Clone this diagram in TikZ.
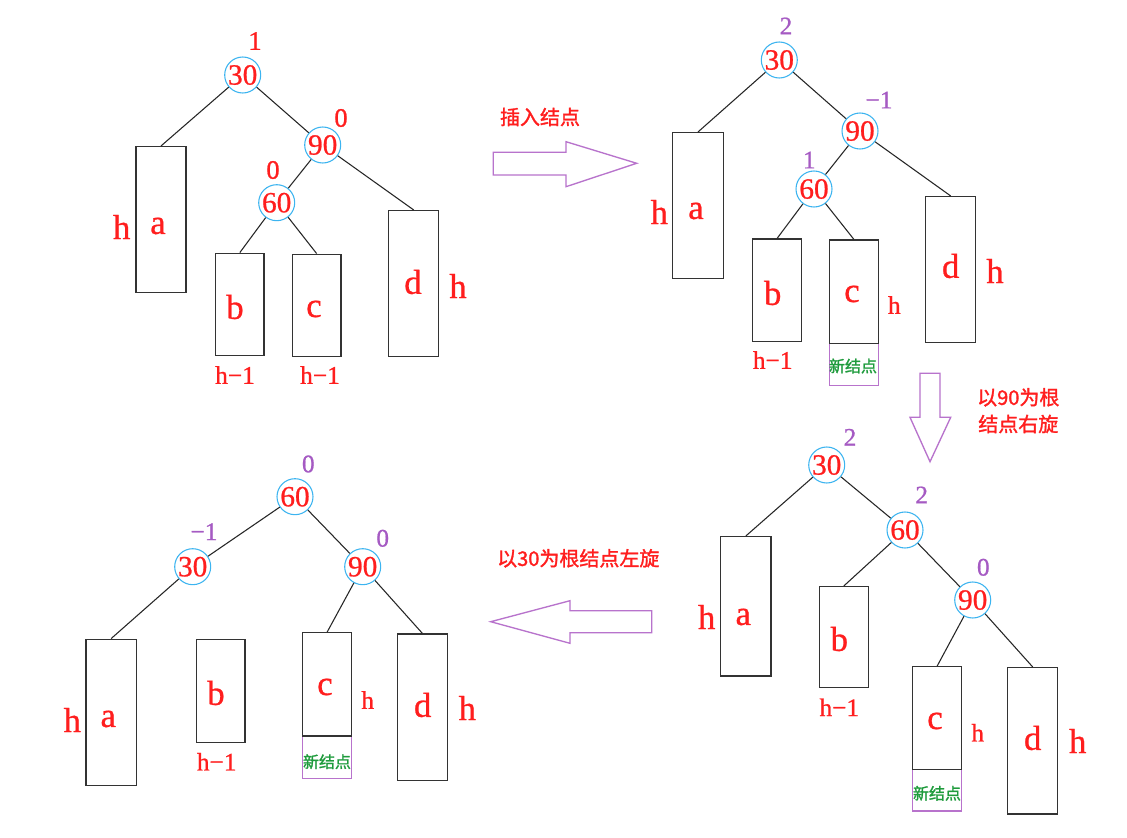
\documentclass[tikz,border=0pt]{standalone}
\usepackage{fontspec}
\setmainfont{Liberation Serif}
\newfontfamily\serifb[FakeBold=0.8]{Liberation Serif}
\newfontfamily\cjk{Noto Sans CJK SC}
\newfontfamily\cjkb[FakeBold=1.5]{Noto Sans CJK SC}
\usetikzlibrary{fit}
\definecolor{tred}{HTML}{FF1E1E}
\definecolor{tpurple}{HTML}{A55AC3}
\definecolor{apurple}{HTML}{B873CC}
\definecolor{tblue}{HTML}{3CB4F0}
\definecolor{tgreen}{HTML}{1E9B3C}
\tikzset{
  key/.style={circle, draw=tblue, line width=0.8pt, minimum size=27pt, inner sep=0pt, text=tred, font=\serifb\fontsize{22}{22}\selectfont},
  bx/.style={draw=black!80, line width=1.1pt, inner sep=0pt},
  nbx/.style={draw=apurple, line width=1pt, inner sep=0pt},
  lettr/.style={text=tred, font=\serifb\fontsize{26}{26}\selectfont, inner sep=0pt},
  hs/.style={text=tred, font=\serifb\fontsize{19}{19}\selectfont, inner sep=0pt},
  bal/.style={text=tred, font=\serifb\fontsize{20}{20}\selectfont, inner sep=0pt},
  balp/.style={text=tpurple, font=\serifb\fontsize{19}{19}\selectfont, inner sep=0pt},
  cn/.style={text=tred, font=\cjkb\fontsize{15}{15}\selectfont, inner sep=0pt},
  newtxt/.style={text=tgreen, font=\cjkb\fontsize{12}{12}\selectfont, inner sep=0pt},
  edge/.style={draw=black!85, line width=0.8pt},
  bigarrow/.style={draw=apurple, line width=1pt, line join=miter}
}
\begin{document}
\begin{tikzpicture}[x=0.75pt, y=-0.75pt]
\useasboundingbox (0,0) rectangle (1127,838);
\fill[white] (0,0) rectangle (1127,838);

% ---------- Tree 1 (top left) ----------
\node[key] (t1n30) at (242.7,75) {30};
\node[key] (t1n90) at (322.7,145) {90};
\node[key] (t1n60) at (276.7,202.7) {60};
\node[bal] (t1b30) at (255,41) {1};
\node[bal] (t1b90) at (341,118) {0};
\node[bal] (t1b60) at (273,170) {0};
\node[bx, fit={(136,146.7) (186,292.7)}] (t1A) {};
\node[bx, fit={(215.7,253.3) (264,355.7)}] (t1B) {};
\node[bx, fit={(292.3,254.3) (341,356.7)}] (t1C) {};
\node[bx, fit={(388.7,210.7) (438.7,356.7)}] (t1D) {};
\node[lettr] (t1la) at (158,226) {a};
\node[lettr] (t1lb) at (235,307) {b};
\node[lettr] (t1lc) at (314,309) {c};
\node[lettr] (t1ld) at (413,282) {d};
\node[lettr] (t1ha) at (121.7,227) {h};
\node[lettr] (t1hd) at (458,286) {h};
\node[hs] (t1hb) at (235,375) {h−1};
\node[hs] (t1hc) at (320,375) {h−1};
\draw[edge] (t1n30) -- (t1A.north);
\draw[edge] (t1n30) -- (t1n90);
\draw[edge] (t1n90) -- (t1n60);
\draw[edge] (t1n90) -- (t1D.north);
\draw[edge] (t1n60) -- (t1B.north);
\draw[edge] (t1n60) -- (t1C.north);

% ---------- Arrow 1 ----------
\node[cn] (l1) at (540,117) {插入结点};
\draw[bigarrow] (493.3,152.3) -- (566,152.3) -- (566,141.7) -- (636.7,163.3) -- (566,186.7) -- (566,175) -- (493.3,175) -- cycle;

% ---------- Tree 2 (top right) ----------
\node[key] (t2n30) at (779.3,60) {30};
\node[key] (t2n90) at (860,131) {90};
\node[key] (t2n60) at (814,189) {60};
\node[balp] (t2b30) at (786,26) {2};
\node[balp] (t2b90) at (879,100) {−1};
\node[balp] (t2b60) at (809.3,160) {1};
\node[bx, fit={(672.7,132.7) (723.3,278.7)}] (t2A) {};
\node[bx, fit={(752.7,239) (801.7,341.7)}] (t2B) {};
\node[nbx, fit={(829.3,343.3) (878.3,385.7)}] (t2N) {};
\node[bx, fit={(829.3,240) (878.3,343.3)}] (t2C) {};
\node[bx, fit={(925.7,196.7) (975.7,342.7)}] (t2D) {};
\node[lettr] (t2la) at (696,211) {a};
\node[lettr] (t2lb) at (772.7,293) {b};
\node[lettr] (t2lc) at (852,294) {c};
\node[lettr] (t2ld) at (950.7,266) {d};
\node[lettr] (t2ha) at (659.3,212) {h};
\node[lettr] (t2hd) at (995,271) {h};
\node[hs] (t2hb) at (772.7,360) {h−1};
\node[hs] (t2hc) at (894.3,305) {h};
\node[newtxt] (t2nt) at (853,366) {新结点};
\draw[edge] (t2n30) -- (t2A.north);
\draw[edge] (t2n30) -- (t2n90);
\draw[edge] (t2n90) -- (t2n60);
\draw[edge] (t2n90) -- (t2D.north);
\draw[edge] (t2n60) -- (t2B.north);
\draw[edge] (t2n60) -- (t2C.north);

% ---------- Arrow 2 (down) ----------
\draw[bigarrow] (920,373.3) -- (940,373.3) -- (940,417.3) -- (950.7,417.3) -- (930,461.7) -- (910,417.3) -- (920,417.3) -- cycle;
\node[cn] (l2a) at (1018.3,397.3) {以90为根};
\node[cn] (l2b) at (1018.3,424) {结点右旋};

% ---------- Tree 3 (bottom right) ----------
\node[key] (t3n30) at (826.7,465) {30};
\node[key] (t3n60) at (905,530) {60};
\node[key] (t3n90) at (972.7,600) {90};
\node[balp] (t3b30) at (850,437.3) {2};
\node[balp] (t3b60) at (921.7,495) {2};
\node[balp] (t3b90) at (983.3,567.3) {0};
\node[bx, fit={(720.7,536.7) (771,676)}] (t3A) {};
\node[bx, fit={(819.3,586.7) (868.3,687.7)}] (t3B) {};
\node[nbx, fit={(912.7,769.3) (961.7,811)}] (t3N) {};
\node[bx, fit={(912.7,666.7) (961.7,769.3)}] (t3C) {};
\node[bx, fit={(1007.7,667.7) (1057.7,814)}] (t3D) {};
\node[lettr] (t3la) at (743.3,617) {a};
\node[lettr] (t3lb) at (839.3,639) {b};
\node[lettr] (t3lc) at (935,721) {c};
\node[lettr] (t3ld) at (1032.7,738) {d};
\node[lettr] (t3ha) at (706.7,617) {h};
\node[lettr] (t3hd) at (1077.7,741) {h};
\node[hs] (t3hb) at (839.3,707.3) {h−1};
\node[hs] (t3hc) at (977.7,732.7) {h};
\node[newtxt] (t3nt) at (937,793.3) {新结点};
\draw[edge] (t3n30) -- (t3A.north);
\draw[edge] (t3n30) -- (t3n60);
\draw[edge] (t3n60) -- (t3B.north);
\draw[edge] (t3n60) -- (t3n90);
\draw[edge] (t3n90) -- (t3C.north);
\draw[edge] (t3n90) -- (t3D.north);

% ---------- Arrow 3 (left) ----------
\node[cn] (l3) at (578.3,558.3) {以30为根结点左旋};
\draw[bigarrow] (651.7,610.7) -- (570,610.7) -- (570,600.7) -- (490.7,621.7) -- (570,643.3) -- (570,632.7) -- (651.7,632.7) -- cycle;

% ---------- Tree 4 (bottom left) ----------
\node[key] (t4n60) at (295,496.7) {60};
\node[key] (t4n30) at (192.7,566.7) {30};
\node[key] (t4n90) at (362.7,566.7) {90};
\node[balp] (t4b60) at (308.3,464) {0};
\node[balp] (t4b30) at (204,531.7) {−1};
\node[balp] (t4b90) at (382.7,538.3) {0};
\node[bx, fit={(86,639.3) (136.3,785.7)}] (t4A) {};
\node[bx, fit={(196.7,639.3) (245,742.3)}] (t4B) {};
\node[nbx, fit={(302.7,736) (351.7,778.3)}] (t4N) {};
\node[bx, fit={(302.7,632.7) (351.7,736)}] (t4C) {};
\node[bx, fit={(397.3,634) (447.3,780.7)}] (t4D) {};
\node[lettr] (t4la) at (108.3,719) {a};
\node[lettr] (t4lb) at (216,693) {b};
\node[lettr] (t4lc) at (325,687) {c};
\node[lettr] (t4ld) at (422.7,705) {d};
\node[lettr] (t4ha) at (72.3,720) {h};
\node[lettr] (t4hd) at (467.3,708) {h};
\node[hs] (t4hb) at (216.7,761.7) {h−1};
\node[hs] (t4hc) at (367.7,700) {h};
\node[newtxt] (t4nt) at (327,761.7) {新结点};
\draw[edge] (t4n60) -- (t4n30);
\draw[edge] (t4n60) -- (t4n90);
\draw[edge] (t4n30) -- (t4A.north);
\draw[edge] (t4n90) -- (t4C.north);
\draw[edge] (t4n90) -- (t4D.north);
\end{tikzpicture}
\end{document}
